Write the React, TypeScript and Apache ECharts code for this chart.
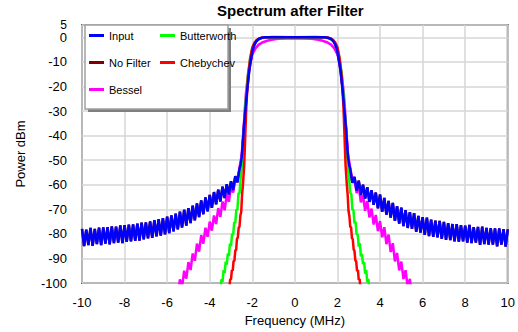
import React, { useEffect, useRef } from "react";
import * as echarts from "echarts";

const titleText = "Spectrum after Filter";
const xName = "Frequency (MHz)";
const yName = "Power dBm";
const legendLeftCol = ["Input", "No Filter", "Bessel"];
const legendRightCol = ["Butterworth", "Chebychev"];
const xMin = -10;
const xMax = 10;
const xStep = 2;
const yMin = -100;
const yMax = 5;
const yStep = 10;

const inputLeft: number[][] = [
  [-10.0, -78.0], [-9.9, -85.0], [-9.8, -78.3], [-9.7, -84.6], [-9.6, -77.6], [-9.5, -84.9], [-9.4, -78.0], [-9.3, -84.2], [-9.2, -77.5], [-9.1, -84.6],
  [-9.0, -77.4], [-8.9, -84.0], [-8.8, -77.3], [-8.7, -84.3], [-8.6, -77.0], [-8.5, -83.8], [-8.4, -77.1], [-8.3, -83.6], [-8.2, -76.6], [-8.1, -83.8],
  [-8.0, -76.5], [-7.9, -83.2], [-7.8, -76.3], [-7.7, -83.0], [-7.6, -76.2], [-7.5, -82.8], [-7.4, -75.8], [-7.3, -82.7], [-7.2, -75.4], [-7.1, -82.2],
  [-7.0, -75.3], [-6.9, -81.8], [-6.8, -74.9], [-6.7, -81.6], [-6.6, -74.4], [-6.5, -81.0], [-6.4, -74.0], [-6.3, -80.7], [-6.2, -73.6], [-6.1, -80.2],
  [-6.0, -73.0], [-5.9, -79.7], [-5.8, -72.5], [-5.7, -79.0], [-5.6, -71.8], [-5.5, -78.2], [-5.4, -71.0], [-5.3, -77.4], [-5.2, -70.2], [-5.1, -76.6],
  [-5.0, -69.5], [-4.9, -75.6], [-4.8, -68.5], [-4.7, -74.5], [-4.6, -67.6], [-4.5, -73.2], [-4.4, -66.4], [-4.3, -72.0], [-4.2, -65.2], [-4.1, -70.8],
  [-4.0, -64.2], [-3.9, -69.4], [-3.8, -63.0], [-3.7, -68.0], [-3.6, -62.0], [-3.5, -66.8], [-3.4, -60.8], [-3.3, -65.4], [-3.2, -59.8], [-3.1, -64.0],
  [-3.0, -58.6], [-2.9, -62.2], [-2.8, -56.5], [-2.7, -59.0], [-2.6, -53.5],
];
const inputMid: number[][] = [
  [-2.55, -52], [-2.5, -49], [-2.47, -46], [-2.43, -41], [-2.4, -37], [-2.35, -32], [-2.3, -27], [-2.25, -22], [-2.2, -18], [-2.15, -14],
  [-2.1, -11], [-2.05, -8.5], [-2.0, -6], [-1.95, -4.3], [-1.9, -3], [-1.8, -1.5], [-1.7, -0.7], [-1.6, -0.3], [-1.4, 0], [0, 0],
  [1.4, 0], [1.6, -0.3], [1.7, -0.7], [1.8, -1.5], [1.9, -3], [1.95, -4.3], [2.0, -6], [2.05, -8.5], [2.1, -11], [2.15, -14],
  [2.2, -18], [2.25, -22], [2.3, -27], [2.35, -32], [2.4, -37], [2.43, -41], [2.47, -46], [2.5, -49], [2.55, -52],
];
const inputRight: number[][] = [
  [2.6, -53.8], [2.7, -59.2], [2.8, -56.8], [2.9, -62.4], [3.0, -58.4], [3.1, -64.2], [3.2, -60.0], [3.3, -65.6], [3.4, -61.0], [3.5, -67.0],
  [3.6, -62.2], [3.7, -68.2], [3.8, -63.2], [3.9, -69.6], [4.0, -64.0], [4.1, -71.0], [4.2, -65.4], [4.3, -72.2], [4.4, -66.6], [4.5, -73.4],
  [4.6, -67.4], [4.7, -74.7], [4.8, -68.7], [4.9, -75.8], [5.0, -69.3], [5.1, -76.8], [5.2, -70.4], [5.3, -77.6], [5.4, -71.2], [5.5, -78.0],
  [5.6, -71.6], [5.7, -79.2], [5.8, -72.7], [5.9, -79.5], [6.0, -73.2], [6.1, -80.4], [6.2, -73.4], [6.3, -80.9], [6.4, -74.2], [6.5, -81.2],
  [6.6, -74.6], [6.7, -81.4], [6.8, -74.7], [6.9, -82.0], [7.0, -75.1], [7.1, -82.4], [7.2, -75.6], [7.3, -82.5], [7.4, -76.0], [7.5, -83.0],
  [7.6, -76.0], [7.7, -83.2], [7.8, -76.5], [7.9, -83.0], [8.0, -76.7], [8.1, -83.6], [8.2, -76.4], [8.3, -83.8], [8.4, -77.3], [8.5, -83.6],
  [8.6, -77.2], [8.7, -84.5], [8.8, -77.1], [8.9, -84.2], [9.0, -77.6], [9.1, -84.4], [9.2, -77.7], [9.3, -84.4], [9.4, -77.8], [9.5, -85.1],
  [9.6, -77.8], [9.7, -84.4], [9.8, -78.1], [9.9, -85.2], [10.0, -78.2],
];

const besselLeft: number[][] = [
  [-5.5, -105.2], [-5.4, -98.5], [-5.3, -101.7], [-5.2, -95.0], [-5.1, -98.2], [-5.0, -91.5], [-4.9, -94.7], [-4.8, -88.0], [-4.7, -91.0], [-4.6, -84.0],
  [-4.5, -87.2], [-4.4, -80.5], [-4.3, -84.0], [-4.2, -77.5], [-4.1, -81.2], [-4.0, -75.0], [-3.9, -78.7], [-3.8, -72.5], [-3.7, -76.0], [-3.6, -69.5],
  [-3.5, -73.1], [-3.4, -66.8], [-3.3, -70.4], [-3.2, -64.0], [-3.1, -67.0], [-3.0, -60.8], [-2.9, -63.2], [-2.8, -57.8], [-2.7, -58.5],
];
const besselMid: number[][] = [
  [-2.6, -53], [-2.5, -48], [-2.45, -42], [-2.4, -36], [-2.35, -29], [-2.3, -23], [-2.2, -15], [-2.1, -10], [-2.0, -7], [-1.85, -4.5],
  [-1.7, -3.0], [-1.5, -2.0], [-1.3, -1.4], [-1.1, -1.0], [-0.8, -0.6], [0, -0.4], [0.8, -0.6], [1.1, -1.0], [1.3, -1.4], [1.5, -2.0],
  [1.7, -3.0], [1.85, -4.5], [2.0, -7], [2.1, -10], [2.2, -15], [2.3, -23], [2.35, -29], [2.4, -36], [2.45, -42], [2.5, -48], [2.6, -53],
];
const besselRight: number[][] = [
  [2.7, -58.3], [2.8, -57.6], [2.9, -63.4], [3.0, -60.6], [3.1, -67.2], [3.2, -64.2], [3.3, -70.6], [3.4, -66.6], [3.5, -73.3], [3.6, -69.7],
  [3.7, -76.2], [3.8, -72.3], [3.9, -78.9], [4.0, -74.8], [4.1, -81.4], [4.2, -77.3], [4.3, -84.2], [4.4, -80.3], [4.5, -87.4], [4.6, -83.8],
  [4.7, -91.2], [4.8, -87.8], [4.9, -94.9], [5.0, -91.3], [5.1, -98.4], [5.2, -94.8], [5.3, -101.9], [5.4, -98.3], [5.5, -105.0],
];

const butterLeft: number[][] = [
  [-3.55, -102.0], [-3.5, -103.3], [-3.45, -98.5], [-3.4, -99.5], [-3.35, -94.8], [-3.3, -96.0], [-3.25, -91.3], [-3.2, -92.5], [-3.15, -88.0], [-3.1, -89.0],
  [-3.05, -84.0], [-3.0, -85.0], [-2.95, -80.0], [-2.9, -80.5], [-2.85, -75.3], [-2.8, -75.5], [-2.75, -70.0], [-2.7, -70.3], [-2.65, -63.5], [-2.6, -63.5],
  [-2.55, -57.5],
];
const butterMid: number[][] = [
  [-2.5, -54], [-2.45, -47], [-2.4, -39], [-2.35, -31], [-2.3, -25], [-2.2, -15], [-2.1, -8.5], [-2.0, -4.5], [-1.9, -2.4], [-1.8, -1.3],
  [-1.6, -0.4], [-1.4, -0.1], [0, 0], [1.4, -0.1], [1.6, -0.4], [1.8, -1.3], [1.9, -2.4], [2.0, -4.5], [2.1, -8.5], [2.2, -15],
  [2.3, -25], [2.35, -31], [2.4, -39], [2.45, -47], [2.5, -54],
];
const butterRight: number[][] = [
  [2.55, -57.7], [2.6, -63.3], [2.65, -63.7], [2.7, -70.1], [2.75, -70.2], [2.8, -75.7], [2.85, -75.1], [2.9, -80.3], [2.95, -80.2], [3.0, -85.2],
  [3.05, -83.8], [3.1, -89.2], [3.15, -88.2], [3.2, -92.3], [3.25, -91.5], [3.3, -96.2], [3.35, -94.6], [3.4, -99.7], [3.45, -98.3], [3.5, -103.1],
  [3.55, -102.2],
];

const chebyLeft: number[][] = [
  [-3.12, -102.0], [-3.08, -102.2], [-3.04, -98.5], [-3.0, -98.5], [-2.96, -94.8], [-2.92, -95.0], [-2.88, -91.0], [-2.84, -91.0], [-2.8, -86.8], [-2.76, -86.5],
  [-2.72, -82.0], [-2.68, -81.5], [-2.64, -77.5], [-2.6, -77.0], [-2.56, -72.5], [-2.52, -71.0], [-2.48, -64.0],
];
const chebyMid: number[][] = [
  [-2.44, -60], [-2.38, -52], [-2.33, -40], [-2.28, -28], [-2.2, -16], [-2.1, -8.5], [-2.0, -4.2], [-1.9, -2.2], [-1.8, -1.1], [-1.7, -0.6],
  [-1.5, -0.1], [-1.0, 0.1], [0, 0], [1.0, 0.1], [1.5, -0.1], [1.7, -0.6], [1.8, -1.1], [1.9, -2.2], [2.0, -4.2], [2.1, -8.5],
  [2.2, -16], [2.28, -28], [2.33, -40], [2.38, -52], [2.44, -60],
];
const chebyRight: number[][] = [
  [2.48, -64.2], [2.52, -70.8], [2.56, -72.7], [2.6, -77.2], [2.64, -77.3], [2.68, -81.7], [2.72, -82.2], [2.76, -86.3], [2.8, -87.0], [2.84, -90.8],
  [2.88, -91.2], [2.92, -95.2], [2.96, -94.6], [3.0, -98.7], [3.04, -98.3], [3.08, -102.4], [3.12, -101.8],
];

const colors = {
  Input: "#0000ff",
  "No Filter": "#800000",
  Bessel: "#ff00ff",
  Butterworth: "#00ff00",
  Chebychev: "#ff0000",
};

const FONT = "'Liberation Sans', Arial, sans-serif";

export default function App() {
  const ref = useRef<HTMLDivElement>(null);
  useEffect(() => {
    document.body.style.margin = "0";
    const chart = echarts.init(ref.current!, null, { renderer: "svg" });
    const inputData = [...inputLeft, ...inputMid, ...inputRight];
    const mk = (name: string, data: number[][]) => ({
      name,
      type: "line",
      data,
      yAxisIndex: 0,
      symbol: "none",
      showSymbol: false,
      silent: true,
      clip: true,
      lineStyle: { width: 2.5, color: (colors as any)[name] },
      itemStyle: { color: (colors as any)[name] },
    });
    const legendBase = {
      orient: "vertical",
      top: 30,
      padding: 0,
      itemGap: 16,
      icon: "rect",
      itemWidth: 15,
      itemHeight: 3,
      selectedMode: false,
      z: 10,
      textStyle: { fontSize: 11, color: "#000", fontFamily: FONT },
    };
    const labelStyle = { fontSize: 13, lineHeight: 11, color: "#000", margin: 15, fontFamily: FONT };
    chart.setOption({
      animation: false,
      backgroundColor: "#ffffff",
      textStyle: { fontFamily: FONT },
      title: {
        text: titleText,
        left: 217,
        top: 3,
        padding: 0,
        textStyle: { fontSize: 15, fontWeight: "bold", color: "#000", fontFamily: FONT },
      },
      legend: [
        { ...legendBase, left: 89, data: legendLeftCol },
        { ...legendBase, left: 160, data: legendRightCol },
      ],
      graphic: [
        { type: "rect", z: 5, shape: { x: 88, y: 28, width: 143, height: 84 }, style: { fill: "#7f7f7f" } },
        { type: "rect", z: 6, shape: { x: 85, y: 25, width: 143, height: 84 }, style: { fill: "#ffffff", stroke: "#a0a0a0", lineWidth: 1.5 } },
      ],
      grid: {
        left: 82,
        right: 10,
        top: 25,
        bottom: 47,
        show: true,
        borderColor: "#606060",
        borderWidth: 2,
        backgroundColor: "transparent",
      },
      xAxis: {
        type: "value",
        min: xMin,
        max: xMax,
        interval: xStep,
        name: xName,
        nameLocation: "middle",
        nameGap: 31,
        nameTextStyle: { fontSize: 13, color: "#000", fontFamily: FONT },
        axisLine: { show: false },
        axisTick: { show: false },
        axisLabel: { fontSize: 13, color: "#000", margin: 13, fontFamily: FONT },
        splitLine: { show: true, lineStyle: { color: "#d6d6d6", width: 1.5 } },
      },
      yAxis: [
        {
          type: "value",
          position: "left",
          min: yMin,
          max: yMax,
          interval: yStep,
          name: yName,
          nameLocation: "middle",
          nameGap: 55,
          nameTextStyle: { fontSize: 13, color: "#000", fontFamily: FONT },
          axisLine: { show: false },
          axisTick: { show: false },
          axisLabel: { ...labelStyle, showMaxLabel: false, showMinLabel: true },
          splitLine: { show: true, lineStyle: { color: "#d6d6d6", width: 1.5 } },
        },
        {
          type: "value",
          position: "left",
          offset: 0,
          min: yMin,
          max: yMax,
          interval: yMax - yMin,
          axisLine: { show: false },
          axisTick: { show: false },
          splitLine: { show: false },
          axisLabel: {
            ...labelStyle,
            fontSize: 12,
            lineHeight: 10,
            padding: [0, 0, 4, 0],
            showMaxLabel: true,
            showMinLabel: false,
            formatter: (v: number) => (v === yMax ? String(v) : ""),
          },
        },
      ],
      series: [
        mk("No Filter", inputData),
        mk("Bessel", [...besselLeft, ...besselMid, ...besselRight]),
        mk("Butterworth", [...butterLeft, ...butterMid, ...butterRight]),
        mk("Chebychev", [...chebyLeft, ...chebyMid, ...chebyRight]),
        mk("Input", inputData),
      ],
    });
    return () => chart.dispose();
  }, []);
  return <div ref={ref} style={{ width: 518, height: 332 }} />;
}
